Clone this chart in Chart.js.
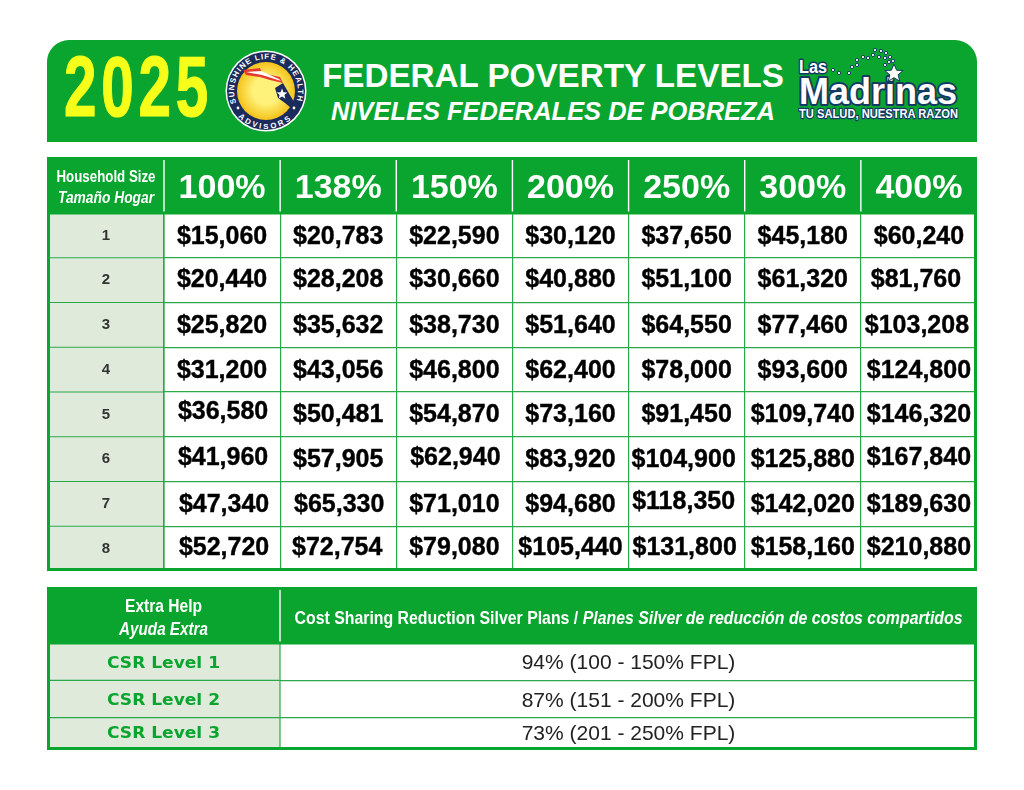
<!DOCTYPE html>
<html>
<head>
<meta charset="utf-8">
<title>2025 Federal Poverty Levels</title>
<script src="https://cdn.jsdelivr.net/npm/chart.js@4"></script>
<style>
  html, body { margin: 0; padding: 0; background: #fff; overflow: hidden; }
  #art { position: absolute; left: 0; top: 0; }
  .box { position: absolute; overflow: hidden; }
  canvas { display: block; }
</style>
</head>
<body>

<!-- banner -->
<svg id="art" width="1024" height="150" xmlns="http://www.w3.org/2000/svg">
  <path d="M47 142 V62 a22 22 0 0 1 22 -22 H955 a22 22 0 0 1 22 22 V142 Z" fill="#0aa52e"/>
  <text transform="translate(64 116) scale(0.68 1)" letter-spacing="7" font-family="Liberation Sans" font-weight="bold" font-size="86" fill="#f6ff1a" stroke="#f6ff1a" stroke-width="1.2">2025</text>

  <!-- badge -->
  <defs>
    <path id="arcTop" d="M236.3 103 A32 32 0 1 1 295.7 103"/>
    <path id="arcBot" d="M230 103 A38 38 0 0 0 302 103"/>
    <radialGradient id="sun"><stop offset="0.45" stop-color="#fff27a"/><stop offset="1" stop-color="#f5c21a"/></radialGradient>
  </defs>
  <circle cx="266" cy="91" r="40.5" fill="#fff"/>
  <circle cx="266" cy="91" r="39" fill="#1b2b5c"/>
  <circle cx="266" cy="91" r="29" fill="url(#sun)"/>
  <path d="M243 70 L260 68 L262 73 L280 77 L283 83 L270 80 L260 77 L246 75 Z" fill="#e63a2c"/>
  <path d="M246 72 L261 71 L279 79 L281 81 L262 75 Z" fill="#fff"/>
  <path d="M275 88 L283 83 L287 90 L294 102 L291 108 L285 103 L278 98 Z" fill="#1b2b5c"/>
  <path d="M282 88.5 l1.5 3.7 3.9 .2 -3 2.5 1 3.8 -3.4 -2.1 -3.4 2.1 1 -3.8 -3 -2.5 3.9 -.2 Z" fill="#fff"/>
  <text font-family="Liberation Sans" font-weight="bold" font-size="7.8" fill="#fff"><textPath href="#arcTop" textLength="122" lengthAdjust="spacing">SUNSHINE LIFE &amp; HEALTH</textPath></text>
  <text font-family="Liberation Sans" font-weight="bold" font-size="7.8" fill="#fff"><textPath href="#arcBot" startOffset="16" textLength="58" lengthAdjust="spacing">ADVISORS</textPath></text>
  <circle cx="238" cy="108" r="1.4" fill="#fff"/><circle cx="294" cy="108" r="1.4" fill="#fff"/>

  <!-- titles -->
  <text x="322" y="87" textLength="462" lengthAdjust="spacingAndGlyphs" font-family="Liberation Sans" font-weight="bold" font-size="33" fill="#fff">FEDERAL POVERTY LEVELS</text>
  <text x="331" y="120" textLength="444" lengthAdjust="spacingAndGlyphs" font-family="Liberation Sans" font-weight="bold" font-style="italic" font-size="25" fill="#fff">NIVELES FEDERALES DE POBREZA</text>

  <!-- las madrinas logo -->
  <g font-family="Liberation Sans" font-weight="bold" paint-order="stroke" stroke="#123a63" stroke-linejoin="round">
    <text x="799" y="73" textLength="28" lengthAdjust="spacingAndGlyphs" font-size="18" fill="#fff" stroke-width="3">Las</text>
    <text x="799" y="104" textLength="158" lengthAdjust="spacingAndGlyphs" font-size="37" fill="#fff" stroke-width="4">Madrinas</text>
    <text x="799" y="118" textLength="159" lengthAdjust="spacingAndGlyphs" font-size="13" fill="#fff" stroke-width="2.5">TU SALUD, NUESTRA RAZON</text>
  </g>
  <path d="M894 64 l2.6 6.2 6.6 .3 -5.1 4.3 1.7 6.4 -5.8 -3.5 -5.8 3.5 1.7 -6.4 -5.1 -4.3 6.6 -.3 Z" fill="#fff" stroke="#123a63"/>
  <g fill="#fff" stroke="#123a63" stroke-width="1">
    <circle cx="833" cy="70" r="1.6"/><circle cx="839" cy="73" r="1.6"/><circle cx="849" cy="73" r="1.6"/>
    <circle cx="852" cy="67" r="1.6"/><circle cx="857" cy="65" r="1.6"/><circle cx="857" cy="60" r="1.6"/>
    <circle cx="863" cy="57" r="1.6"/><circle cx="868" cy="58" r="1.6"/><circle cx="873" cy="55" r="1.6"/>
    <circle cx="875" cy="50" r="1.6"/><circle cx="881" cy="51" r="1.6"/><circle cx="886" cy="53" r="1.6"/>
    <circle cx="879" cy="57" r="1.6"/><circle cx="885" cy="58" r="1.6"/><circle cx="890" cy="57" r="1.6"/>
    <circle cx="889" cy="62" r="1.6"/><circle cx="893" cy="61" r="1.6"/><circle cx="885" cy="65" r="1.6"/>
  </g>
</svg>

<div class="box" style="left:47px;top:157px;width:930px;height:414px"><canvas id="fplChart"></canvas></div>
<div class="box" style="left:47px;top:587px;width:930px;height:163px"><canvas id="csrChart"></canvas></div>

<script>
// Poverty level table
const householdSizes = ['1', '2', '3', '4', '5', '6', '7', '8'];
const fplLevels = ['100%', '138%', '150%', '200%', '250%', '300%', '400%'];
const fpl100 = [15060, 20440, 25820, 31200, 36580, 41960, 47340, 52720];
const fpl138 = [20783, 28208, 35632, 43056, 50481, 57905, 65330, 72754];
const fpl150 = [22590, 30660, 38730, 46800, 54870, 62940, 71010, 79080];
const fpl200 = [30120, 40880, 51640, 62400, 73160, 83920, 94680, 105440];
const fpl250 = [37650, 51100, 64550, 78000, 91450, 104900, 118350, 131800];
const fpl300 = [45180, 61320, 77460, 93600, 109740, 125880, 142020, 158160];
const fpl400 = [60240, 81760, 103208, 124800, 146320, 167840, 189630, 210880];
const fplColumns = [fpl100, fpl138, fpl150, fpl200, fpl250, fpl300, fpl400];

// Extra help table
const csrLevels = ['CSR Level 1', 'CSR Level 2', 'CSR Level 3'];
const csrColumn = ['reduction'];
const csrPercent = [94, 87, 73];
const csrRanges = ['100 - 150% FPL', '151 - 200% FPL', '201 - 250% FPL'];

const GREEN = '#0aa52e';
const LINE = '#2ba84c';
const PALE = '#dfeadb';
const SANS = '"Liberation Sans"';

// the amounts were pasted in by hand in the original, a few sit off centre
const fplRowShift = [1, -1, 0, 0, 0, 0, 0, -2];
const fplNudges = {
  36580: [1, -3], 41960: [1, -2], 47340: [2, 0], 52720: [2, 0], 65330: [1, 0], 72754: [-1, 0],
  62940: [1, -2], 104900: [-3, 0], 118350: [-3, -3], 131800: [-2, 0],
  81760: [-3, 0], 103208: [-2, 0], 167840: [0, -2]
};

// condensed text: no narrow face installed, so squeeze to the wanted width
function squeezed(c, text, cx, y, width) {
  const w = c.measureText(text).width;
  c.save();
  c.translate(cx, y);
  c.scale(width / w, 1);
  c.textAlign = 'center';
  c.fillText(text, 0, 0);
  c.restore();
}

// green header, pale first column, white separators, outer border
function tableFrame(frameHeight) {
  return {
    id: 'tableFrame',
    beforeDraw(chart) {
      const c = chart.ctx, a = chart.chartArea;
      c.save();
      c.fillStyle = GREEN;
      c.fillRect(0, 0, chart.width, a.top);
      c.fillStyle = PALE;
      c.fillRect(0, a.top, a.left, a.bottom - a.top);
      c.restore();
    },
    afterDraw(chart) {
      const c = chart.ctx, a = chart.chartArea, x = chart.scales.x, y = chart.scales.y;
      c.save();
      // row lines through the pale column
      c.strokeStyle = LINE;
      c.lineWidth = 1.2;
      y.getLabels().forEach((l, i) => {
        if (i == 0) return;
        const py = (y.getPixelForValue(i) + y.getPixelForValue(i - 1)) / 2;
        c.beginPath(); c.moveTo(0, py); c.lineTo(a.left, py); c.stroke();
      });
      c.beginPath(); c.moveTo(a.left, a.top); c.lineTo(a.left, a.bottom); c.stroke();
      // white lines in the header
      c.strokeStyle = '#fff';
      c.lineWidth = 1.4;
      const step = (x.right - x.left) / x.getLabels().length;
      for (let i = 0; i < x.getLabels().length; i++) {
        c.beginPath(); c.moveTo(x.left + i * step, 3); c.lineTo(x.left + i * step, a.top - 1); c.stroke();
      }
      // border
      c.fillStyle = GREEN;
      c.fillRect(0, a.top - 1.5, chart.width, 3);
      c.fillRect(0, 0, 3, frameHeight);
      c.fillRect(chart.width - 3, 0, 3, frameHeight);
      c.fillRect(0, frameHeight - 3, chart.width, 3);
      c.restore();
    }
  };
}

function cellLabels(fontSize, heavy, rowShift) {
  return {
    id: 'cellLabels',
    afterDatasetsDraw(chart) {
      const c = chart.ctx;
      c.save();
      c.textAlign = 'center';
      c.textBaseline = 'middle';
      c.font = (heavy ? 'bold ' : '') + fontSize + 'px ' + SANS;
      c.fillStyle = heavy ? '#000' : '#222';
      c.strokeStyle = '#000';
      c.lineWidth = 0.4;
      chart.data.datasets.forEach((ds, d) => {
        chart.getDatasetMeta(d).data.forEach((pt, i) => {
          const cell = ds.data[i];
          const nudge = fplNudges[cell.value] || [0, 0];
          const px = pt.x + nudge[0];
          const py = pt.y + 1 + rowShift[i] + nudge[1];
          c.fillText(cell.text, px, py);
          if (heavy) c.strokeText(cell.text, px, py);
        });
      });
      c.restore();
    }
  };
}

const hiddenPoint = { showLine: false, pointRadius: 0, pointHoverRadius: 0 };
const baseOptions = {
  responsive: false,
  animation: false,
  layout: { padding: 0 },
  plugins: { legend: { display: false }, tooltip: { enabled: false } },
  events: []
};

// main table
const fplCanvas = document.getElementById('fplChart');
fplCanvas.width = 930; fplCanvas.height = 414;
new Chart(fplCanvas, {
  type: 'line',
  data: {
    labels: fplLevels,
    datasets: fplColumns.map((col, k) => ({
      ...hiddenPoint,
      data: col.map((v, i) => ({
        x: fplLevels[k], y: householdSizes[i], value: v,
        text: '$' + v.toLocaleString('en-US')
      }))
    }))
  },
  options: {
    ...baseOptions,
    scales: {
      x: {
        type: 'category', position: 'top', offset: true,
        grid: { color: LINE, lineWidth: 1.2, drawTicks: false, offset: true },
        border: { display: false },
        ticks: { color: '#fff', font: { family: SANS, size: 34, weight: 'bold' }, padding: 4, maxRotation: 0 },
        afterFit(s) { s.height = 56; }
      },
      y: {
        type: 'category', labels: householdSizes, offset: true,
        grid: { color: LINE, lineWidth: 1.2, drawTicks: false, offset: true },
        border: { display: false },
        ticks: { color: '#333', font: { family: SANS, size: 15, weight: 'bold' }, padding: 54 },
        afterFit(s) { s.width = 117; s.paddingTop = 0; s.paddingBottom = 0; }
      }
    }
  },
  plugins: [tableFrame(414), cellLabels(25, true, fplRowShift), {
    id: 'cornerLabel',
    afterDraw(chart) {
      const c = chart.ctx;
      c.save();
      c.fillStyle = '#fff';
      c.font = 'bold 17px ' + SANS;
      squeezed(c, 'Household Size', 59, 25, 99);
      c.font = 'italic bold 17px ' + SANS;
      squeezed(c, 'Tamaño Hogar', 59, 46, 96);
      c.restore();
    }
  }]
});

// extra help table
const csrRowShift = [1, 1, -3];
const csrCanvas = document.getElementById('csrChart');
csrCanvas.width = 930; csrCanvas.height = 168;
new Chart(csrCanvas, {
  type: 'line',
  data: {
    labels: csrColumn,
    datasets: [{
      ...hiddenPoint,
      data: csrPercent.map((p, i) => ({
        x: csrColumn[0], y: csrLevels[i],
        text: p + '% (' + csrRanges[i] + ')'
      }))
    }]
  },
  options: {
    ...baseOptions,
    scales: {
      x: {
        type: 'category', position: 'top', offset: true,
        grid: { display: false },
        border: { display: false },
        ticks: { display: false },
        afterFit(s) { s.height = 56; }
      },
      y: {
        type: 'category', labels: csrLevels, offset: true,
        grid: { color: LINE, lineWidth: 1.2, drawTicks: false, offset: true },
        border: { display: false },
        ticks: { display: false },
        afterFit(s) { s.width = 233; s.paddingTop = 0; s.paddingBottom = 0; }
      }
    }
  },
  plugins: [tableFrame(163), cellLabels(21, false, csrRowShift), {
    id: 'csrHeader',
    afterDraw(chart) {
      const c = chart.ctx, x = chart.scales.x, y = chart.scales.y;
      c.save();
      // row names
      c.fillStyle = GREEN;
      c.font = 'bold 15px "DejaVu Sans"';
      c.textBaseline = 'middle';
      csrLevels.forEach((name, i) => {
        squeezed(c, name, 116.5, y.getPixelForValue(i) + 1 + csrRowShift[i], 113);
      });
      c.textBaseline = 'alphabetic';
      c.fillStyle = '#fff';
      c.font = 'bold 19px ' + SANS;
      squeezed(c, 'Extra Help', 116.5, 25, 77);
      c.font = 'italic bold 19px ' + SANS;
      squeezed(c, 'Ayuda Extra', 116.5, 48, 89);
      // header is half upright, half italic
      const a = 'Cost Sharing Reduction Silver Plans / ';
      const b = 'Planes Silver de reducción de costos compartidos';
      const upright = 'bold 19px ' + SANS, slanted = 'italic bold 19px ' + SANS;
      c.font = upright;
      const wa = c.measureText(a).width;
      c.font = slanted;
      const wb = c.measureText(b).width;
      const k = 668 / (wa + wb);
      const left = (x.left + x.right) / 2 - 334;
      c.font = upright;
      squeezed(c, a, left + wa * k / 2, 37, wa * k);
      c.font = slanted;
      squeezed(c, b, left + wa * k + wb * k / 2, 37, wb * k);
      c.restore();
    }
  }]
});
</script>
</body>
</html>
